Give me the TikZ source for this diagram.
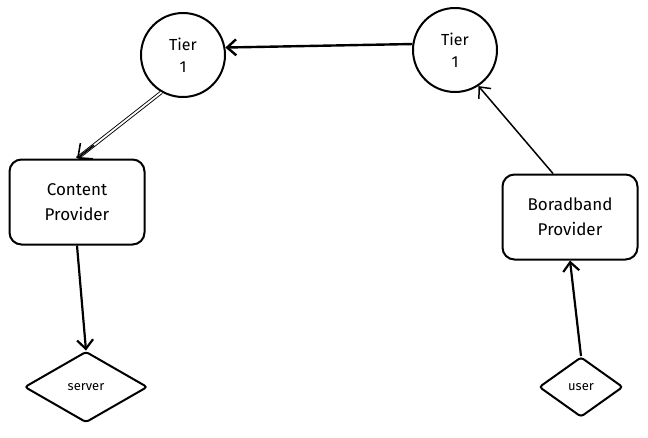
\documentclass[tikz,border=0pt]{standalone}
\usepackage{fontspec}
\setmainfont{Fira Sans}
\usetikzlibrary{shapes.geometric,arrows.meta,calc}
\begin{document}
\begin{tikzpicture}[x=1pt, y=-1pt, line width=2pt,
  tier/.style={circle, draw, minimum size=84pt, inner sep=0pt, align=center,
    font=\fontsize{16}{22}\selectfont},
  provider/.style={draw, rounded corners=12pt, minimum width=135pt,
    minimum height=85pt, align=center, font=\fontsize{17}{25}\selectfont},
  host/.style={diamond, draw, rounded corners=3pt, inner sep=0pt,
    font=\fontsize{13}{15}\selectfont},
  link/.style={-{Straight Barb[length=9pt,width=16pt]}}]
\useasboundingbox (0,0) rectangle (648,437);

% backbone
\node[tier] (tierA) at (183,55) {Tier\\1};
\node[tier] (tierB) at (455,50) {Tier\\1};

% providers
\node[provider] (content) at (77,202) {Content\\Provider};
\node[provider] (broad) at (570,217) {Boradband\\Provider};

% end points
\node[host, minimum width=123pt, minimum height=71pt] (server) at (86,387) {server};
\node[host, minimum width=84pt, minimum height=60pt] (user) at (581,387) {user};

\draw[link, line width=2.4pt] (tierB.172) -- (tierA.10);
% double line, head drawn on its own
\draw[double, double distance=1.8pt, line width=0.9pt] (tierA.240) -- (content.north);
\draw[-{Straight Barb[length=11pt,width=20pt]}, line width=1.6pt]
  ($(tierA.240)!0.8!(content.north)$) -- (content.north);
\draw[link, line width=1.5pt] ([xshift=-17pt]broad.north) -- (tierB.-57);
\draw[link, line width=2.2pt] (content.south) -- (server.north);
\draw[link, line width=2.2pt] (user.north) -- (broad.south);
\end{tikzpicture}
\end{document}
